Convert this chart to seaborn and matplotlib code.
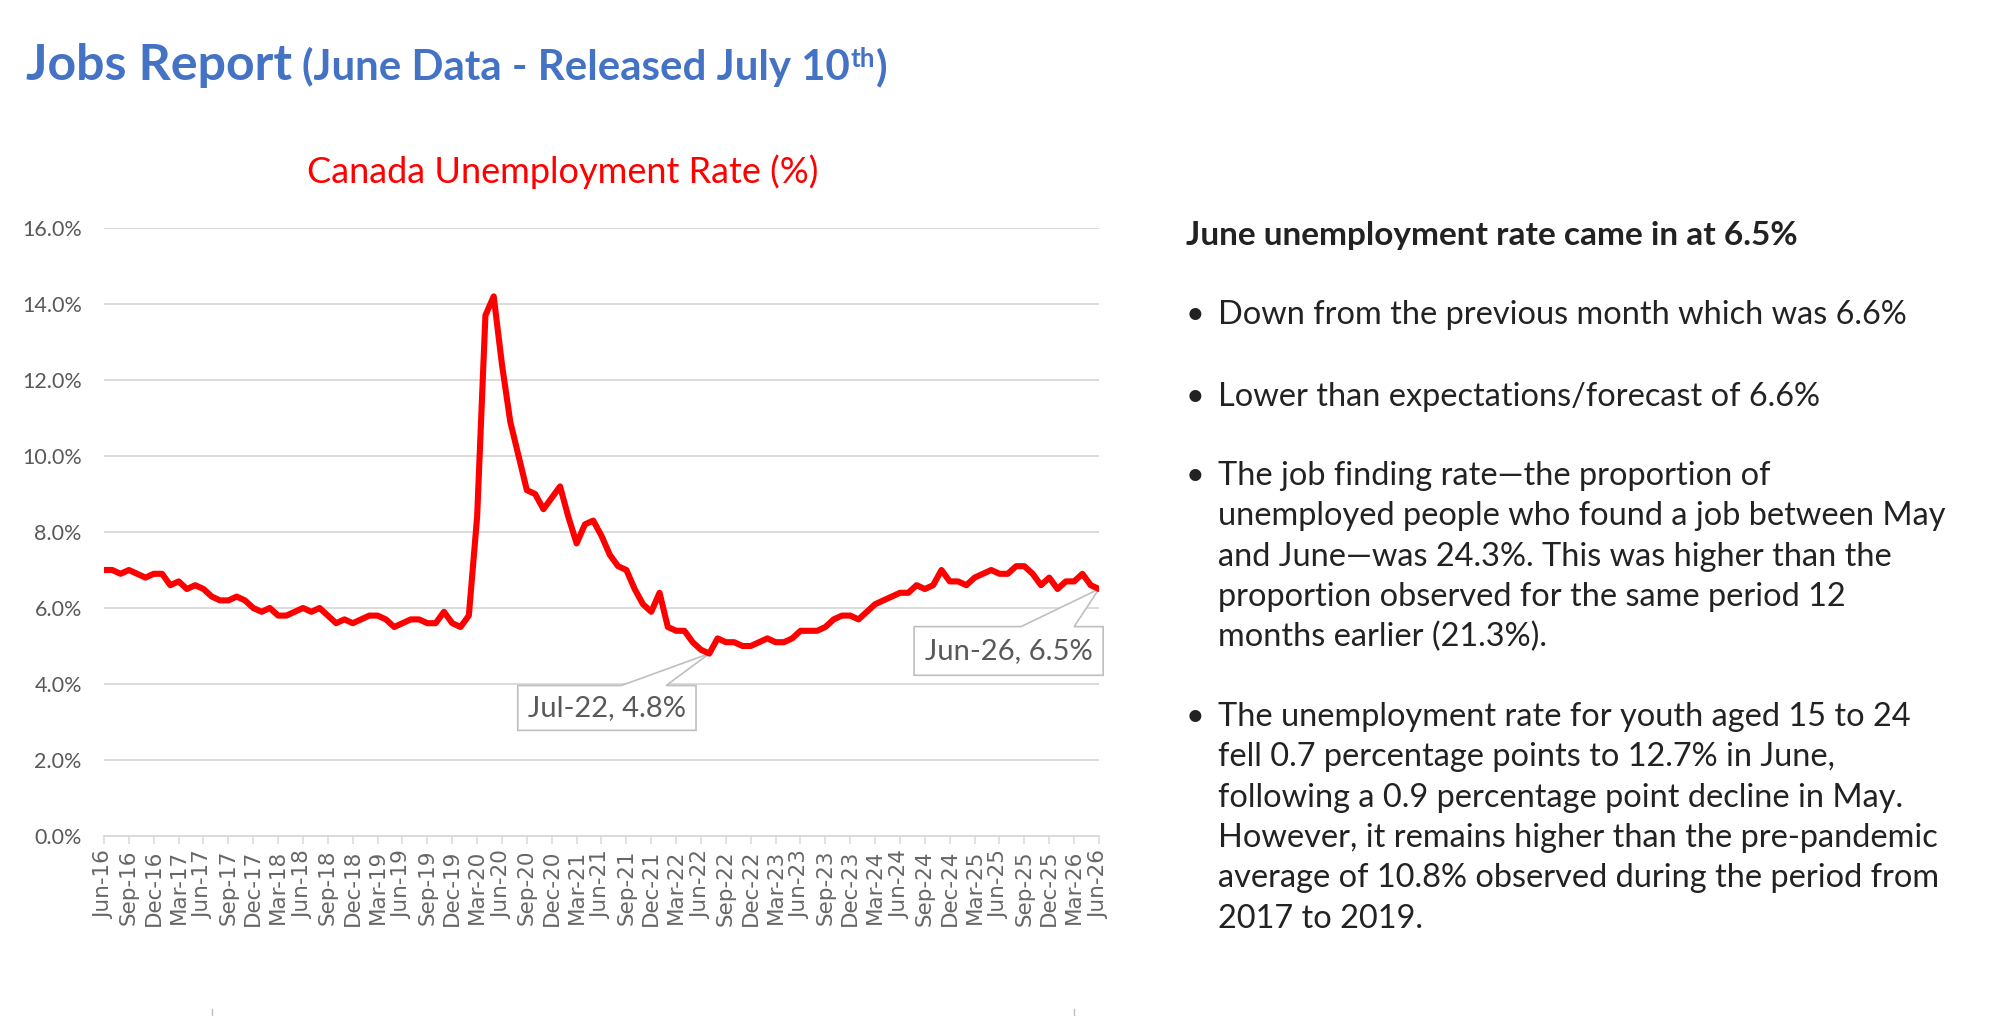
import numpy as np
import pandas as pd
import matplotlib
matplotlib.use("Agg")
import matplotlib.pyplot as plt
import seaborn as sns
from matplotlib.patches import Polygon
from matplotlib.lines import Line2D

# ---------------- data ----------------
months = pd.date_range("2016-06-01", "2026-06-01", freq="MS")
month_labels = [d.strftime("%b-%y") for d in months]

rate = [
    7.0, 7.0, 6.9, 7.0, 6.9, 6.8, 6.9, 6.9, 6.6, 6.7, 6.5, 6.6,
    6.5, 6.3, 6.2, 6.2, 6.3, 6.2, 6.0, 5.9, 6.0, 5.8, 5.8, 5.9,
    6.0, 5.9, 6.0, 5.8, 5.6, 5.7, 5.6, 5.7, 5.8, 5.8, 5.7, 5.5,
    5.6, 5.7, 5.7, 5.6, 5.6, 5.9, 5.6, 5.5, 5.8, 8.4, 13.7, 14.2,
    12.4, 10.9, 10.0, 9.1, 9.0, 8.6, 8.9, 9.2, 8.4, 7.7, 8.2, 8.3,
    7.9, 7.4, 7.1, 7.0, 6.5, 6.1, 5.9, 6.4, 5.5, 5.4, 5.4, 5.1,
    4.9, 4.8, 5.2, 5.1, 5.1, 5.0, 5.0, 5.1, 5.2, 5.1, 5.1, 5.2,
    5.4, 5.4, 5.4, 5.5, 5.7, 5.8, 5.8, 5.7, 5.9, 6.1, 6.2, 6.3,
    6.4, 6.4, 6.6, 6.5, 6.6, 7.0, 6.7, 6.7, 6.6, 6.8, 6.9, 7.0,
    6.9, 6.9, 7.1, 7.1, 6.9, 6.6, 6.8, 6.5, 6.7, 6.7, 6.9, 6.6,
    6.5,
]
y_ticks = [0, 2, 4, 6, 8, 10, 12, 14, 16]
tick_step = 3

callout_low = "Jul-22, 4.8%"
callout_last = "Jun-26, 6.5%"
low_idx = month_labels.index("Jul-22")
last_idx = len(rate) - 1

title_main = "Jobs Report"
title_sub = "(June Data - Released July 10"
title_sup = "th"
title_end = ")"
chart_title = "Canada Unemployment Rate (%)"

heading = "June unemployment rate came in at 6.5%"
bullets = [
    ["Down from the previous month which was 6.6%"],
    ["Lower than expectations/forecast of 6.6%"],
    ["The job finding rate\u2014the proportion of",
     "unemployed people who found a job between May",
     "and June\u2014was 24.3%. This was higher than the",
     "proportion observed for the same period 12",
     "months earlier (21.3%)."],
    ["The unemployment rate for youth aged 15 to 24",
     "fell 0.7 percentage points to 12.7% in June,",
     "following a 0.9 percentage point decline in May.",
     "However, it remains higher than the pre-pandemic",
     "average of 10.8% observed during the period from",
     "2017 to 2019."],
]

df = pd.DataFrame({"idx": np.arange(len(rate)), "rate": rate})

# ---------------- style ----------------
sns.set_style("white")
plt.rcParams["font.family"] = ["Lato", "DejaVu Sans"]

W, H = 1999, 1016
fig = plt.figure(figsize=(W / 100, H / 100), dpi=100)
fig.patch.set_facecolor("white")
renderer = fig.canvas.get_renderer()


def fx(px):
    return px / W


def fy(py):
    return 1 - py / H


def text_width(s, size, **kw):
    t = fig.text(0, 0, s, fontsize=size, **kw)
    w = t.get_window_extent(renderer).width
    t.remove()
    return w


def fit(s, target, **kw):
    return 20 * target / text_width(s, 20, **kw)


# ---------------- chart ----------------
ax = fig.add_axes([fx(104), fy(836), (1099 - 104) / W, (836 - 228) / H])
sns.lineplot(data=df, x="idx", y="rate", ax=ax, color="#FF0000",
             linewidth=4.4, zorder=3)
ax.set_xlim(0, len(rate) - 1)
ax.set_ylim(0, 16)
ax.set_yticks(y_ticks)
ax.set_yticklabels([f"{v:.1f}%" for v in y_ticks], fontsize=15.5,
                   color="#595959", family=["Lato", "DejaVu Sans"])
xt = list(range(0, len(rate), tick_step))
ax.set_xticks(xt)
ax.set_xticklabels([month_labels[i] for i in xt], rotation=90, fontsize=15.5,
                   color="#666666", family=["DejaVu Sans"])
ax.set_xlabel("")
ax.set_ylabel("")
ax.grid(axis="y", color="#d9d9d9", linewidth=1.3)
ax.grid(axis="x", visible=False)
ax.set_axisbelow(True)
for s in ["top", "right", "left"]:
    ax.spines[s].set_visible(False)
ax.spines["bottom"].set_color("#d9d9d9")
ax.spines["bottom"].set_linewidth(1.3)
ax.tick_params(axis="x", length=6, width=1.1, color="#d9d9d9", pad=4, bottom=True)
ax.tick_params(axis="y", length=0, pad=16)


def callout(label, box, base, apex):
    x0, x1, y0, y1 = box
    b0, b1 = base
    verts = [(x0, y1), (b0, y1), apex, (b1, y1), (x1, y1), (x1, y0), (x0, y0)]
    poly = Polygon(verts, closed=True, facecolor="white", edgecolor="#bfbfbf",
                   linewidth=1.2, transform=ax.transData, clip_on=False,
                   zorder=2.5)
    ax.add_patch(poly)
    ax.text((x0 + x1) / 2, (y0 + y1) / 2, label, ha="center", va="center",
            fontsize=21, color="#595959", zorder=4, clip_on=False)


callout(callout_low, (49.9, 71.4, 2.78, 3.96), (62.4, 67.8),
        (low_idx, rate[low_idx]))
callout(callout_last, (97.7, 120.5, 4.23, 5.51), (110.6, 117.0),
        (last_idx, rate[last_idx]))

# chart title
fs_ct = fit(chart_title, 512)
fig.text(fx(563), fy(183), chart_title, ha="center", va="baseline",
         fontsize=fs_ct, color="#FF0000")

# ---------------- page title ----------------
blue = "#4472C4"
fs_t = fit(title_main, 267, weight="bold")
t1 = fig.text(fx(26), fy(80), title_main, fontsize=fs_t, weight="bold",
              color=blue, va="baseline")
fs_s = fit(title_sub, 548, weight="bold")
t2 = fig.text(fx(302), fy(80), title_sub, fontsize=fs_s, weight="bold",
              color=blue, va="baseline")
x_end = t2.get_window_extent(renderer).x1
t3 = fig.text(x_end / W + 0.0005, fy(67), title_sup, fontsize=fs_s * 0.62,
              weight="bold", color=blue, va="baseline")
x_end2 = t3.get_window_extent(renderer).x1
fig.text(x_end2 / W + 0.0005, fy(80), title_end, fontsize=fs_s, weight="bold",
         color=blue, va="baseline")

# ---------------- right-hand text ----------------
txt = "#222222"
fs_h = fit(heading, 611, weight="bold")
fig.text(fx(1186), fy(245), heading, fontsize=fs_h, weight="bold", color=txt,
         va="baseline")
fs_b = fit(bullets[0][0], 689)
para_base = [324, 406, 485, 726]
line_gap = 40.3
for lines, b in zip(bullets, para_base):
    fig.text(fx(1195), fy(b), "\u2022", fontsize=fs_b, color=txt,
             va="baseline", ha="center")
    for k, line in enumerate(lines):
        fig.text(fx(1218), fy(b + k * line_gap), line, fontsize=fs_b,
                 color=txt, va="baseline")

# tiny marks at bottom edge
for px in (212, 1074):
    fig.add_artist(Line2D([fx(px), fx(px)], [fy(1009), fy(1016)],
                          color="#bfbfbf", linewidth=1))

fig.savefig("out.png", dpi=100, facecolor="white")
